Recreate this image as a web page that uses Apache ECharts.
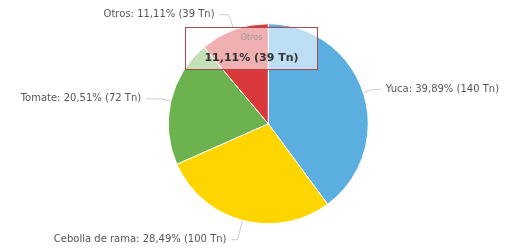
<!DOCTYPE html>
<html>
<head>
<meta charset="utf-8">
<script src="https://cdn.jsdelivr.net/npm/echarts@6/dist/echarts.min.js"></script>
<style>
  html, body { margin: 0; padding: 0; background: #fff; }
  #chart { width: 511px; height: 250px; }
</style>
</head>
<body>
<div id="chart"></div>
<script>
// Producción por cultivo (toneladas)
var cultivos = ['Yuca', 'Cebolla de rama', 'Tomate', 'Otros'];
var toneladas = [140, 100, 72, 39];
var colores = ['#5aafe0', '#ffd500', '#6cb24f', '#d9393b'];
// largo de las líneas de etiqueta por porción
var lineas = [[10, 8], [20, 6], [10, 15], [16, 9]];

var myChart = echarts.init(document.getElementById('chart'));

var datos = [];
for (var i = 0; i < cultivos.length; i++) {
    datos.push({
        name: cultivos[i],
        value: toneladas[i],
        itemStyle: { color: colores[i] },
        labelLine: { length: lineas[i][0], length2: lineas[i][1] }
    });
}

// porcentaje con coma decimal
var pct = function (p) {
    return p.toFixed(2).replace('.', ',') + '%';
};

var option = {
    animation: false,
    tooltip: {
        trigger: 'item',
        alwaysShowContent: true,
        backgroundColor: 'rgba(255,255,255,0.6)',
        borderWidth: 1,
        borderColor: '#a8484a',
        borderRadius: 0,
        padding: [4, 6],
        extraCssText: 'box-shadow:none;width:133px;height:43px;box-sizing:border-box;text-align:center;',
        position: function () { return [185, 27]; },
        formatter: function (p) {
            return '<div style="font-size:8px;color:#999;line-height:12px;font-family:\'DejaVu Sans\'">' + p.name + '</div>' +
                '<div style="font-size:11px;font-weight:bold;color:#333;line-height:20px;margin-top:4px;font-family:\'DejaVu Sans\'">' +
                pct(p.percent) + ' (' + p.value + ' Tn)</div>';
        }
    },
    series: [
        {
            name: 'Producción',
            type: 'pie',
            radius: '80%',
            center: ['52.5%', '49.5%'],
            startAngle: 90,
            clockwise: true,
            data: datos,
            itemStyle: { borderColor: '#fff', borderWidth: 1 },
            emphasis: { scale: false },
            label: {
                fontFamily: 'DejaVu Sans',
                fontSize: 10,
                color: '#555',
                overflow: 'none',
                formatter: function (p) {
                    return p.name + ': ' + pct(p.percent) + ' (' + p.value + ' Tn)';
                }
            },
            labelLine: {
                lineStyle: { color: '#ccc', width: 1 }
            }
        }
    ]
};

myChart.setOption(option);
myChart.dispatchAction({ type: 'showTip', seriesIndex: 0, dataIndex: 3 });
</script>
</body>
</html>
